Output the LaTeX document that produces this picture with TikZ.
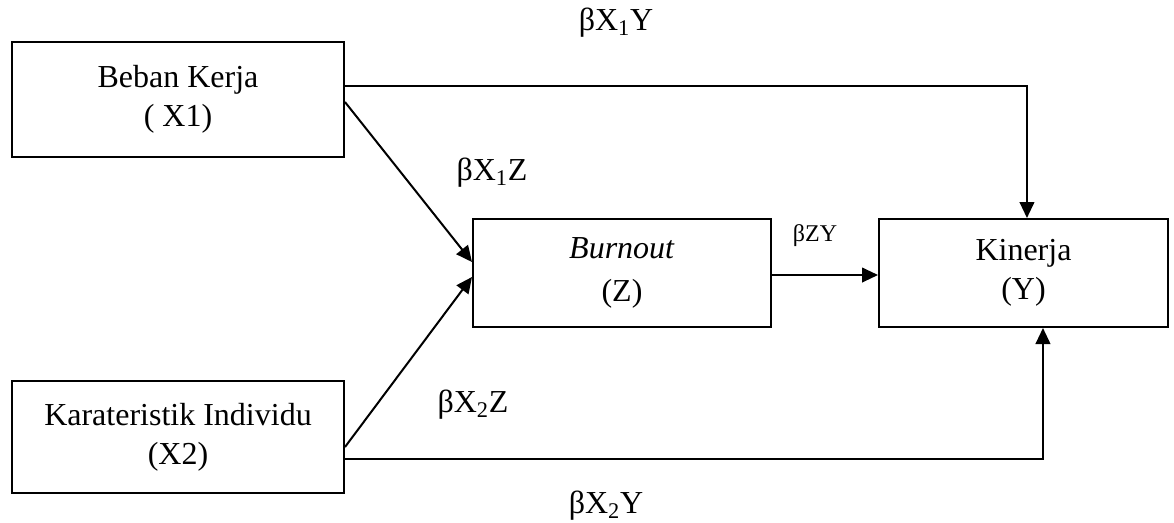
\documentclass[tikz,border=0pt]{standalone}
\usepackage{fontspec}
\setmainfont{Liberation Serif}
\usetikzlibrary{arrows.meta}
\begin{document}
\begin{tikzpicture}[x=0.75pt,y=-0.75pt,
  box/.style={draw, line width=1.5pt, align=center, inner sep=0pt,
    font=\fontsize{24}{29}\selectfont},
  lbl/.style={inner sep=0pt, font=\fontsize{24}{28}\selectfont},
  slbl/.style={inner sep=0pt, font=\fontsize{18}{22}\selectfont},
  arr/.style={line width=1.5pt, -{Triangle[length=12pt,width=11pt]}}]
\useasboundingbox (0,0) rectangle (1174,522);
\node[box, minimum width=249pt, minimum height=86.25pt] (X1) at (178,99.5) {Beban Kerja\\( X1)};
\node[box, minimum width=249pt, minimum height=84pt] (X2) at (178,437) {Karateristik Individu\\(X2)};
\node[box, minimum width=223.5pt, minimum height=81pt] (Z) at (622,273) {\textit{Burnout}\\[3pt](Z)};
\node[box, minimum width=216.75pt, minimum height=81pt] (Y) at (1023.5,273) {Kinerja\\(Y)};
\draw[arr] ([yshift=10pt]X1.east) -| ([xshift=2.6pt]Y.north);
\draw[arr] ([yshift=-1.9pt]X1.east) -- ([yshift=8.25pt]Z.west);
\draw[arr] ([yshift=-7.5pt]X2.east) -- ([yshift=-3pt]Z.west);
\draw[arr] ([yshift=-16.5pt]X2.east) -| ([xshift=14.6pt]Y.south);
\draw[arr] ([yshift=-1.5pt]Z.east) -- ([yshift=-1.5pt]Y.west);
\node[lbl] (l1) at (616,23) {βX\textsubscript{1}Y};
\node[lbl] (l2) at (492,173) {βX\textsubscript{1}Z};
\node[lbl] (l3) at (473,405) {βX\textsubscript{2}Z};
\node[lbl] (l4) at (606,506) {βX\textsubscript{2}Y};
\node[slbl] (l5) at (815,236) {βZY};
\end{tikzpicture}
\end{document}
